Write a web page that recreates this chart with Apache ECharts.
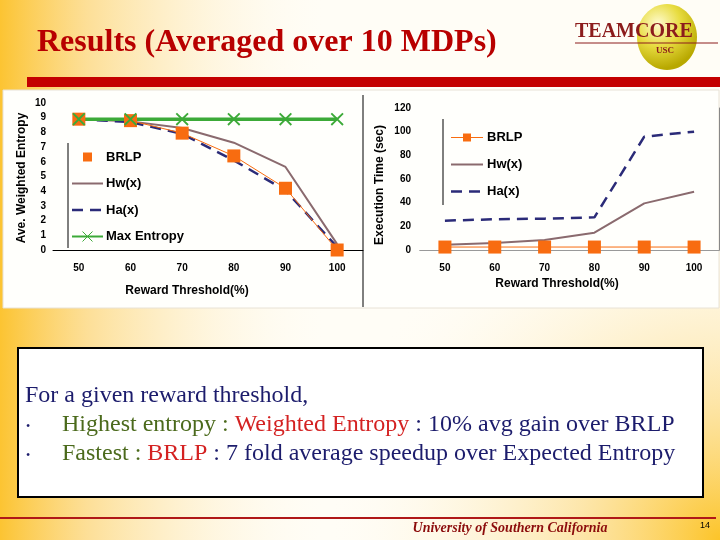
<!DOCTYPE html>
<html>
<head>
<meta charset="utf-8">
<script src="https://cdn.jsdelivr.net/npm/echarts@6/dist/echarts.min.js"></script>
<style>
html,body{margin:0;padding:0;background:#fff;}
#chart{width:720px;height:540px;}
</style>
</head>
<body>
<div id="chart"></div>
<script>
// ---- data ----
const categories = ['50', '60', '70', '80', '90', '100'];
const entropyTicks = [0, 1, 2, 3, 4, 5, 6, 7, 8, 9, 10];
const timeTicks = [0, 20, 40, 60, 80, 100, 120];

const brlpEntropy = [8.9, 8.8, 7.95, 6.4, 4.2, 0];
const hwEntropy = [8.9, 8.75, 8.3, 7.3, 5.65, 0.4];
const haEntropy = [8.9, 8.7, 7.9, 6.1, 4.05, 0.2];
const maxEntropy = [8.9, 8.9, 8.9, 8.9, 8.9, 8.9];

const brlpTime = [2.5, 2.5, 2.5, 2.5, 2.5, 2.5];
const hwTime = [4.5, 6, 8.5, 14.6, 39.4, 49.3];
const haTime = [24.8, 26, 26.5, 27.6, 95.8, 100];

const leftLegend = ['BRLP', 'Hw(x)', 'Ha(x)', 'Max Entropy'];
const rightLegend = ['BRLP', 'Hw(x)', 'Ha(x)'];

// ---- styles ----
const C_BRLP = '#f86c10';
const C_HW = '#8a6a6e';
const C_HA = '#2b2b78';
const C_MAX = '#3caa38';
const SANS = 'Liberation Sans, Arial, sans-serif';
const SERIF = 'Liberation Serif, Times New Roman, serif';
const XMARK = 'path://M0,1L1,0L5,4L9,0L10,1L6,5L10,9L9,10L5,6L1,10L0,9L4,5Z';
const DASH = [11, 7];

const chart = echarts.init(document.getElementById('chart'), null, {renderer: 'canvas'});

const axisLabelStyle = {fontFamily: SANS, fontWeight: 'bold', fontSize: 10, color: '#000'};

// legend entries drawn as graphics
function legendGraphics(names, x0, x1, textX, y0, step, squareSize, brlpLine) {
  const out = [];
  names.forEach((name, i) => {
    const y = y0 + i * step;
    const cx = (x0 + x1) / 2;
    if (name === 'BRLP') {
      if (brlpLine) out.push({type: 'line', silent: true, shape: {x1: x0, y1: y, x2: x1, y2: y}, style: {stroke: C_BRLP, lineWidth: 1}});
      out.push({type: 'rect', silent: true, shape: {x: cx - squareSize / 2, y: y - squareSize / 2, width: squareSize, height: squareSize}, style: {fill: C_BRLP}});
    } else if (name === 'Hw(x)') {
      out.push({type: 'line', silent: true, shape: {x1: x0, y1: y, x2: x1, y2: y}, style: {stroke: C_HW, lineWidth: 2}});
    } else if (name === 'Ha(x)') {
      out.push({type: 'line', silent: true, shape: {x1: x0, y1: y, x2: x1, y2: y}, style: {stroke: C_HA, lineWidth: 2.5, lineDash: DASH}});
    } else {
      out.push({type: 'line', silent: true, shape: {x1: x0, y1: y, x2: x1, y2: y}, style: {stroke: C_MAX, lineWidth: 2}});
      out.push({type: 'polyline', silent: true, shape: {points: [[cx - 5, y - 5], [cx + 5, y + 5]]}, style: {stroke: C_MAX, lineWidth: 1}});
      out.push({type: 'polyline', silent: true, shape: {points: [[cx - 5, y + 5], [cx + 5, y - 5]]}, style: {stroke: C_MAX, lineWidth: 1}});
    }
    out.push({type: 'text', x: textX, y: y, silent: true,
      style: {text: name, font: 'bold 13px ' + SANS, fill: '#000', verticalAlign: 'middle'}});
  });
  return out;
}

const option = {
  animation: false,
  grid: [
    {left: 53, top: 103, width: 310, height: 147},
    {left: 420, top: 108, width: 299, height: 142}
  ],
  xAxis: [
    {gridIndex: 0, type: 'category', data: categories, boundaryGap: true,
     axisLine: {lineStyle: {color: '#000', width: 1}}, axisTick: {show: false},
     axisLabel: Object.assign({margin: 13}, axisLabelStyle)},
    {gridIndex: 1, type: 'category', data: categories, boundaryGap: true,
     axisLine: {lineStyle: {color: '#888', width: 1}}, axisTick: {show: false},
     axisLabel: Object.assign({margin: 13}, axisLabelStyle)},
    {gridIndex: 1, type: 'category', data: categories, position: 'top',
     axisLine: {lineStyle: {color: '#999', width: 1}}, axisTick: {show: false},
     axisLabel: {show: false}}
  ],
  yAxis: [
    {gridIndex: 0, type: 'value', min: entropyTicks[0], max: entropyTicks[entropyTicks.length - 1], interval: 1,
     axisLine: {show: false}, axisTick: {show: false}, splitLine: {show: false},
     axisLabel: Object.assign({margin: 7}, axisLabelStyle)},
    {gridIndex: 1, type: 'value', min: timeTicks[0], max: timeTicks[timeTicks.length - 1], interval: 20,
     axisLine: {show: false}, axisTick: {show: false}, splitLine: {show: false},
     axisLabel: Object.assign({margin: 9}, axisLabelStyle)},
    {gridIndex: 1, type: 'value', min: 0, max: 120, position: 'right',
     axisLine: {show: true, lineStyle: {color: '#888', width: 1}}, axisTick: {show: false},
     splitLine: {show: false}, axisLabel: {show: false}}
  ],
  series: [
    {name: 'Hw(x)', type: 'line', xAxisIndex: 0, yAxisIndex: 0, data: hwEntropy, symbol: 'none',
     color: C_HW, lineStyle: {color: C_HW, width: 2}},
    {name: 'Ha(x)', type: 'line', xAxisIndex: 0, yAxisIndex: 0, data: haEntropy, symbol: 'none',
     color: C_HA, lineStyle: {color: C_HA, width: 2.5, type: DASH}},
    {name: 'BRLP', type: 'line', xAxisIndex: 0, yAxisIndex: 0, data: brlpEntropy, symbol: 'rect', symbolSize: 13,
     color: C_BRLP, itemStyle: {color: C_BRLP}, lineStyle: {color: C_BRLP, width: 1}},
    {name: 'Max Entropy', type: 'line', xAxisIndex: 0, yAxisIndex: 0, data: maxEntropy, symbol: XMARK, symbolSize: 13,
     color: C_MAX, itemStyle: {color: C_MAX}, lineStyle: {color: C_MAX, width: 3.5}},

    {name: 'Hw(x)', type: 'line', xAxisIndex: 1, yAxisIndex: 1, data: hwTime, symbol: 'none',
     color: C_HW, lineStyle: {color: C_HW, width: 2}},
    {name: 'Ha(x)', type: 'line', xAxisIndex: 1, yAxisIndex: 1, data: haTime, symbol: 'none',
     color: C_HA, lineStyle: {color: C_HA, width: 2.5, type: DASH}},
    {name: 'BRLP', type: 'line', xAxisIndex: 1, yAxisIndex: 1, data: brlpTime, symbol: 'rect', symbolSize: 13,
     color: C_BRLP, itemStyle: {color: C_BRLP}, lineStyle: {color: C_BRLP, width: 1}}
  ],
  graphic: [
    // background
    {type: 'rect', z: -100, silent: true, shape: {x: 0, y: 0, width: 720, height: 540},
     style: {fill: '#fffdf6'}},
    {type: 'rect', z: -99, silent: true, shape: {x: 0, y: 0, width: 720, height: 540},
     style: {fill: {type: 'linear', x: 0, y: 0, x2: 1, y2: 0, colorStops: [
       {offset: 0, color: 'rgba(252,196,50,1)'}, {offset: 0.12, color: 'rgba(252,210,110,0.7)'},
       {offset: 0.45, color: 'rgba(255,250,235,0)'}, {offset: 1, color: 'rgba(255,255,255,0)'}]}}},
    {type: 'rect', z: -98, silent: true, shape: {x: 0, y: 0, width: 720, height: 540},
     style: {fill: {type: 'radial', x: 1, y: 1, r: 0.75, colorStops: [
       {offset: 0, color: 'rgba(252,196,40,1)'}, {offset: 0.35, color: 'rgba(252,215,120,0.6)'},
       {offset: 1, color: 'rgba(255,255,255,0)'}]}}},
    // title
    {type: 'text', left: 37, top: 27, silent: true,
     style: {text: 'Results (Averaged over 10 MDPs)', font: 'bold 32px ' + SERIF, fill: '#b80000'}},
    {type: 'rect', silent: true, shape: {x: 27, y: 77, width: 693, height: 10}, style: {fill: '#c40000'}},
    // logo
    {type: 'ellipse', silent: true, shape: {cx: 667, cy: 37, rx: 30, ry: 33},
     style: {fill: {type: 'radial', x: 0.35, y: 0.3, r: 0.75, colorStops: [
       {offset: 0, color: '#fffbd0'}, {offset: 0.5, color: '#e8dc40'}, {offset: 1, color: '#b8a800'}]}}},
    {type: 'text', left: 575, top: 22, silent: true,
     style: {text: 'TEAMCORE', font: 'bold 20px ' + SERIF, fill: '#8c1c1c'}},
    {type: 'line', silent: true, shape: {x1: 575, y1: 43, x2: 718, y2: 43}, style: {stroke: '#8c1c1c', lineWidth: 1}},
    {type: 'text', left: 656, top: 46, silent: true,
     style: {text: 'USC', font: 'bold 9px ' + SERIF, fill: '#8c1c1c'}},
    // chart panel
    {type: 'rect', z: -50, silent: true, shape: {x: 3, y: 90, width: 716, height: 218},
     style: {fill: '#fffffc', stroke: '#e8e2d6', lineWidth: 1}},
    {type: 'line', silent: true, shape: {x1: 363, y1: 95, x2: 363, y2: 307}, style: {stroke: '#000', lineWidth: 1}},
    // legend frame lines
    {type: 'line', silent: true, shape: {x1: 68, y1: 143, x2: 68, y2: 248}, style: {stroke: '#000', lineWidth: 1}},
    {type: 'line', silent: true, shape: {x1: 443, y1: 119, x2: 443, y2: 205}, style: {stroke: '#000', lineWidth: 1}},
    // axis titles
    {type: 'text', x: 22, y: 178, rotation: Math.PI / 2, silent: true,
     style: {text: 'Ave. Weighted Entropy', font: 'bold 12px ' + SANS, fill: '#000', align: 'center', verticalAlign: 'middle'}},
    {type: 'text', x: 380, y: 185, rotation: Math.PI / 2, silent: true,
     style: {text: 'Execution Time (sec)', font: 'bold 12px ' + SANS, fill: '#000', align: 'center', verticalAlign: 'middle'}},
    {type: 'text', x: 187, y: 291, silent: true,
     style: {text: 'Reward Threshold(%)', font: 'bold 12px ' + SANS, fill: '#000', align: 'center', verticalAlign: 'middle'}},
    {type: 'text', x: 557, y: 284, silent: true,
     style: {text: 'Reward Threshold(%)', font: 'bold 12px ' + SANS, fill: '#000', align: 'center', verticalAlign: 'middle'}},
    // text box
    {type: 'rect', silent: true, shape: {x: 18, y: 348, width: 685, height: 149},
     style: {fill: '#ffffff', stroke: '#000', lineWidth: 2}},
    {type: 'text', x: 25, y: 396, silent: true,
     style: {text: 'For a given reward threshold,', font: '24px ' + SERIF, fill: '#1c1c6c', verticalAlign: 'middle'}},
    {type: 'text', x: 26, y: 427, silent: true,
     style: {text: '•', font: '12px ' + SERIF, fill: '#1c1c6c', verticalAlign: 'middle'}},
    {type: 'text', x: 26, y: 456, silent: true,
     style: {text: '•', font: '12px ' + SERIF, fill: '#1c1c6c', verticalAlign: 'middle'}},
    {type: 'text', x: 62, y: 425, silent: true,
     style: {text: '{g|Highest entropy : }{r|Weighted Entropy}{b| : 10% avg gain over BRLP}', verticalAlign: 'middle',
       rich: {g: {font: '24px ' + SERIF, fill: '#4b6a1c'}, r: {font: '24px ' + SERIF, fill: '#d42222'}, b: {font: '24px ' + SERIF, fill: '#1c1c6c'}}}},
    {type: 'text', x: 62, y: 454, silent: true,
     style: {text: '{g|Fastest : }{r|BRLP}{b| : 7 fold average speedup over Expected Entropy}', verticalAlign: 'middle',
       rich: {g: {font: '24px ' + SERIF, fill: '#4b6a1c'}, r: {font: '24px ' + SERIF, fill: '#d42222'}, b: {font: '24px ' + SERIF, fill: '#1c1c6c'}}}},
    // footer
    {type: 'line', silent: true, shape: {x1: 0, y1: 518, x2: 716, y2: 518}, style: {stroke: '#b01818', lineWidth: 2}},
    {type: 'text', x: 510, y: 528, silent: true,
     style: {text: 'University of Southern California', font: 'italic bold 14px ' + SERIF, fill: '#8c0c0c', align: 'center', verticalAlign: 'middle'}},
    {type: 'text', x: 705, y: 526, silent: true,
     style: {text: '14', font: '9px ' + SANS, fill: '#000', align: 'center', verticalAlign: 'middle'}}
  ].concat(
    legendGraphics(leftLegend, 72, 103, 106, 157, 26.5, 9, false),
    legendGraphics(rightLegend, 451, 483, 487, 137.5, 27, 8, true)
  )
};
chart.setOption(option);
</script>
</body>
</html>
